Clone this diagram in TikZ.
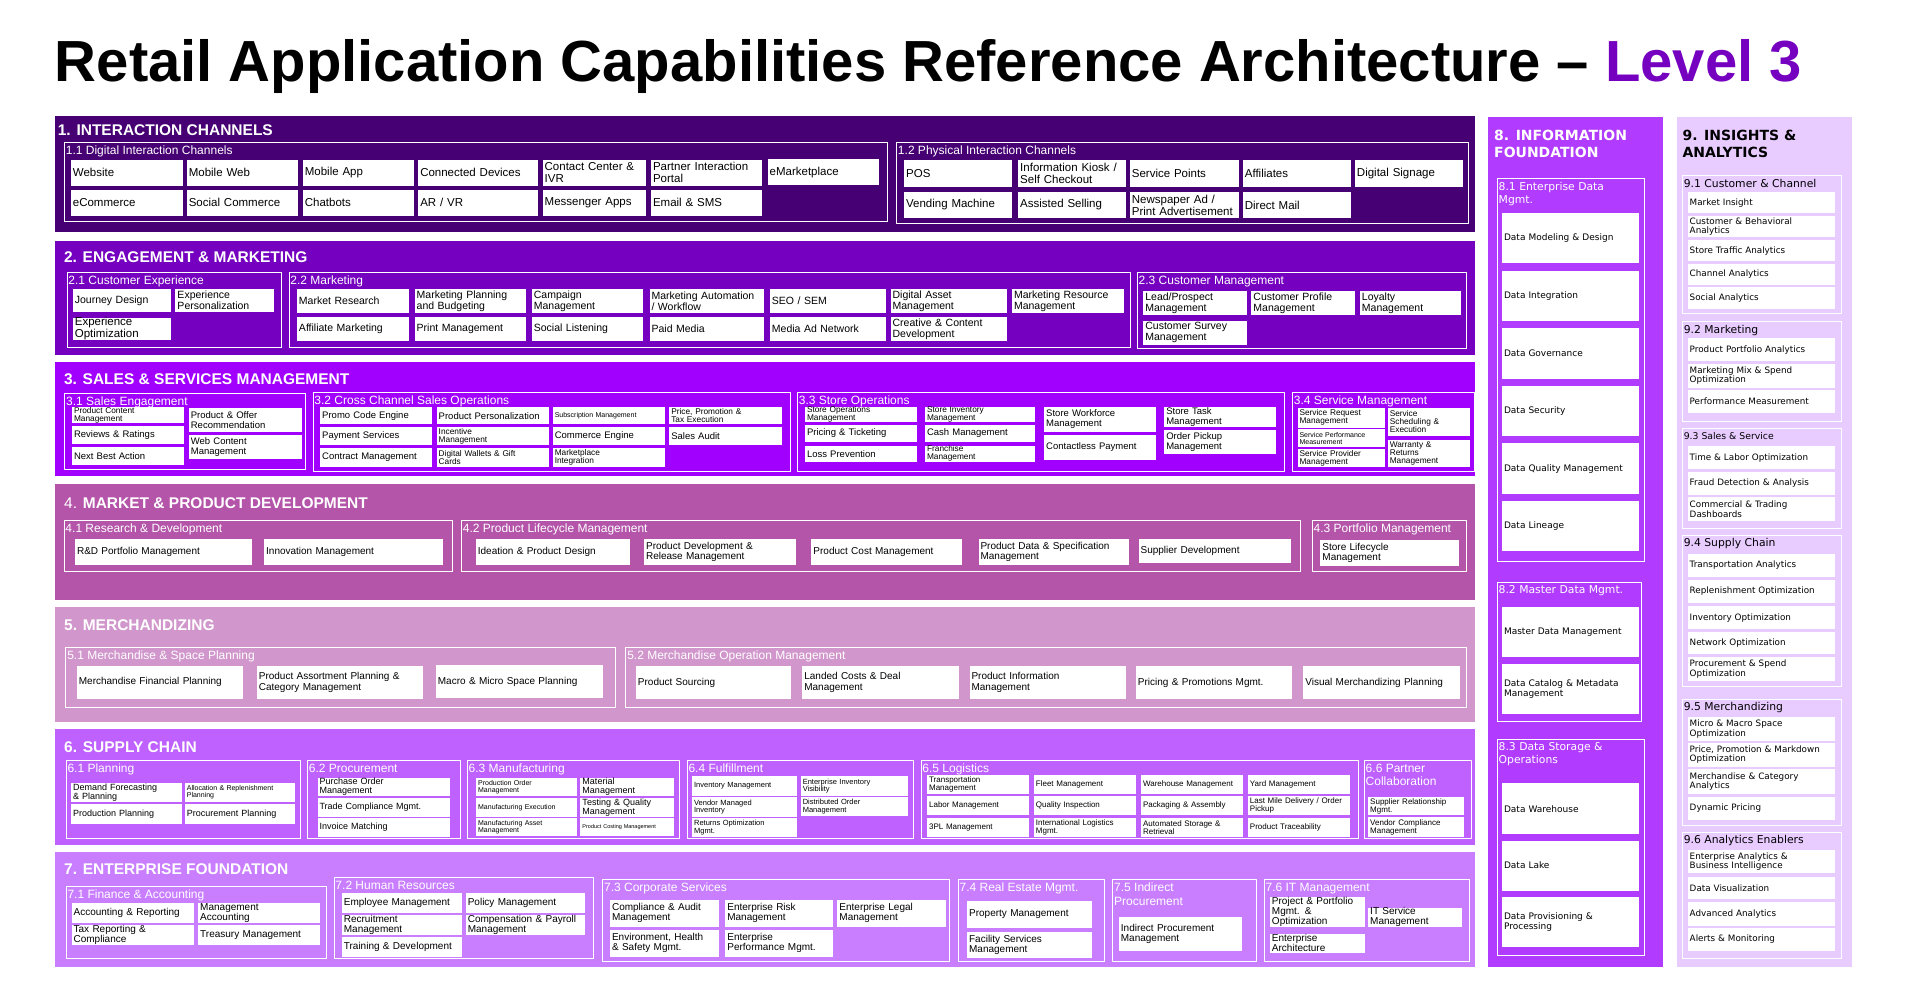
\documentclass[tikz,border=0pt]{standalone}
\usepackage{fontspec}
\setmainfont{Liberation Sans}
\newfontfamily\widefont{DejaVu Sans}
\usepackage{xcolor}
\usepackage{tikz}
\definecolor{lvlpurple}{HTML}{7500C0}
\definecolor{icpurple}{HTML}{460073}
\definecolor{empurple}{HTML}{7500C0}
\definecolor{sspurple}{HTML}{A100FF}
\definecolor{mpmagenta}{HTML}{B455AA}
\definecolor{mdpink}{HTML}{D197CC}
\definecolor{scviolet}{HTML}{BE61FF}
\definecolor{efviolet}{HTML}{C97EFF}
\definecolor{ifpurple}{HTML}{B13CFF}
\definecolor{ialilac}{HTML}{E9CCFF}
\tikzset{
    bandhead/.style={anchor=west,text=white,inner sep=0pt,
      font=\bfseries\fontsize{15.5}{17}\selectfont},
    widehead/.style={anchor=north west,align=left,inner sep=0pt,text=white,
      font=\widefont\bfseries\fontsize{14}{17.5}\selectfont},
    groupframe/.style={draw=white,line width=0.9pt},
    grouplabel/.style={anchor=north west,align=left,text=white,
      inner xsep=1.2pt,inner ysep=3.2pt,font=\fontsize{12}{13.5}\selectfont},
    widelabel/.style={font=\widefont\fontsize{10.8}{13}\selectfont},
    capcell/.style={fill=white,draw=none,inner xsep=2pt,inner ysep=0pt,
      align=left,text=black,font=\fontsize{10.5}{11}\selectfont},
    cap1/.style={font=\fontsize{11.5}{12}\selectfont},
    cap3/.style={font=\fontsize{9.5}{10}\selectfont},
    capthin/.style={font=\fontsize{8.3}{8}\selectfont},
    captiny/.style={font=\fontsize{7}{7.2}\selectfont},
    capmini/.style={font=\fontsize{5.5}{6}\selectfont},
    capfour/.style={font=\fontsize{10}{10.5}\selectfont},
    capsix/.style={font=\fontsize{9}{9}\selectfont},
    capsmall/.style={font=\fontsize{7.5}{7.5}\selectfont},
    caplog/.style={font=\fontsize{8}{8}\selectfont},
    capseven/.style={font=\fontsize{10}{10}\selectfont},
    capwide/.style={font=\widefont\fontsize{9}{10}\selectfont},
    capwidesm/.style={font=\widefont\fontsize{8.8}{8.5}\selectfont}
}
% capability cell: [options]{name}{x1}{y1}{x2}{y2}{text}
\newcommand{\capnode}[7][]{%
  \pgfmathsetmacro{\capw}{(#5-#3)*1.2162}%
  \pgfmathsetmacro{\caph}{(#6-#4)*1.2162}%
  \pgfmathsetmacro{\captw}{\capw-4}%
  \node[capcell,minimum width=\capw pt,minimum height=\caph pt,text width=\captw pt,#1]
    (#2) at ({(#3+#5)/2},{(#4+#6)/2}) {#7};%
}
% white frame with its label: [options]{name}{x1}{y1}{x2}{y2}{label}
\newcommand{\capgroup}[7][]{%
  \draw[groupframe] (#3,#4) rectangle (#5,#6);
  \node[grouplabel,#1] (#2) at (#3,#4) {#7};%
}

\begin{document}
\begin{tikzpicture}[x=1.2162pt,y=-1.2162pt]
  \useasboundingbox (0,0) rectangle (1568,826);
  \fill[white] (0,0) rectangle (1568,826);
  \node[anchor=base west,inner sep=0pt,font=\bfseries\fontsize{58}{60}\selectfont] (title) at (45,67.2)
    {Retail Application Capabilities Reference Architecture -- \textcolor{lvlpurple}{Level 3}};

  % 1. interaction channels
  \fill[icpurple] (45,95.5) rectangle (1213,190.5);
  \node[bandhead] (h1) at (47.4,107) {1. INTERACTION CHANNELS};
  \begin{scope}[capcell/.append style={cap1}]
  \capgroup{g11}{53}{117}{730}{182}{1.1 Digital Interaction Channels}
  \capnode{d1}{58.3}{131.6}{150.5}{152.7}{Website}
  \capnode{d2}{153.6}{131.6}{245}{152.7}{Mobile Web}
  \capnode{d3}{249}{131.6}{340}{152.7}{Mobile App}
  \capnode{d4}{343.9}{131.6}{442.6}{152.7}{Connected Devices}
  \capnode{d5}{446.2}{131.6}{531}{152.7}{Contact Center \&\\IVR}
  \capnode{d6}{535.3}{131.6}{626.8}{152.7}{Partner Interaction\\Portal}
  \capnode{d7}{631.2}{131}{723}{152.1}{eMarketplace}
  \capnode{d8}{58.3}{156.2}{150.5}{177.3}{eCommerce}
  \capnode{d9}{153.6}{156.2}{245}{177.3}{Social Commerce}
  \capnode{d10}{249}{156.2}{340}{177.3}{Chatbots}
  \capnode{d11}{343.9}{156.2}{442.6}{177.3}{AR / VR}
  \capnode{d12}{446.2}{156.2}{531}{177.3}{Messenger Apps}
  \capnode{d13}{535.3}{156.2}{626.8}{177.3}{Email \& SMS}
  \capgroup{g12}{737.2}{117}{1207.2}{183.6}{1.2 Physical Interaction Channels}
  \capnode{p1}{743.4}{131.6}{832.1}{153.5}{POS}
  \capnode{p2}{837.2}{131.6}{925.9}{153.5}{Information Kiosk /\\Self Checkout}
  \capnode{p3}{929}{131.6}{1018.4}{153.5}{Service Points}
  \capnode{p4}{1021.9}{131.6}{1110.6}{153.5}{Affiliates}
  \capnode{p5}{1114.1}{131.6}{1202.8}{153.5}{Digital Signage}
  \capnode{p6}{743.4}{157.9}{832.1}{179.2}{Vending Machine}
  \capnode{p7}{837.2}{157.9}{925.9}{179.2}{Assisted Selling}
  \capnode{p8}{929}{157.9}{1018.4}{179.2}{Newspaper Ad /\\Print Advertisement}
  \capnode{p9}{1021.9}{157.9}{1110.6}{179.2}{Direct Mail}
  \end{scope}

  % 2. engagement & marketing
  \fill[empurple] (45,198) rectangle (1213,291.9);
  \node[bandhead] (h2) at (52.5,211.6) {2. ENGAGEMENT \& MARKETING};
  \capgroup{g21}{55.1}{223.9}{231.3}{285.6}{2.1 Customer Experience}
  \capnode{e1}{59.9}{237.9}{140.7}{256.3}{Journey Design}
  \capnode{e2}{144.3}{237.9}{225.5}{256.3}{Experience\\Personalization}
  \capnode[cap1]{e3}{59.9}{261.2}{140.7}{279.6}{Experience\\Optimization}
  \capgroup{g22}{237.6}{223.9}{929.8}{285.6}{2.2 Marketing}
  \capnode{m1}{244.2}{237.9}{336}{257.1}{Market Research}
  \capnode{m2}{341}{237.9}{432.5}{257.1}{Marketing Planning\\and Budgeting}
  \capnode{m3}{437.3}{237.9}{528.7}{257.1}{Campaign\\Management}
  \capnode{m4}{534.1}{237.9}{628.2}{257.1}{Marketing Automation\\/ Workflow}
  \capnode{m5}{633.1}{237.9}{728.5}{257.1}{SEO / SEM}
  \capnode{m6}{732.3}{237.9}{828}{257.1}{Digital Asset\\Management}
  \capnode{m7}{832.1}{237.9}{924}{257.1}{Marketing Resource\\Management}
  \capnode{m8}{244.2}{260.9}{336}{280.1}{Affiliate Marketing}
  \capnode{m9}{341}{260.9}{432.5}{280.1}{Print Management}
  \capnode{m10}{437.3}{260.9}{528.7}{280.1}{Social Listening}
  \capnode{m11}{534.1}{260.9}{628.2}{280.1}{Paid Media}
  \capnode{m12}{633.1}{260.9}{728.5}{280.1}{Media Ad Network}
  \capnode{m13}{732.3}{260.9}{828}{280.1}{Creative \& Content\\Development}
  \capgroup{g23}{935.1}{223.9}{1205.8}{286.4}{2.3 Customer Management}
  \capnode{c1}{940.1}{239.3}{1025.5}{258.7}{Lead/Prospect\\Management}
  \capnode{c2}{1029}{239.3}{1114.3}{258.7}{Customer Profile\\Management}
  \capnode{c3}{1118.2}{239.3}{1201.2}{258.7}{Loyalty\\Management}
  \capnode{c4}{940.1}{264}{1025.5}{283.4}{Customer Survey\\Management}

  % 3. sales & services management
  \fill[sspurple] (45,297.4) rectangle (1213,391.4);
  \node[bandhead] (h3) at (52.5,311.9) {3. SALES \& SERVICES MANAGEMENT};
  \begin{scope}[capcell/.append style={cap3}]
  \capgroup{g31}{53.3}{323.4}{251.5}{385.9}{3.1 Sales Engagement}
  \capnode[capthin]{s1}{59.2}{335.2}{151.3}{347.8}{Product Content\\Management}
  \capnode{s2}{59.2}{350.3}{151.3}{365.1}{Reviews \& Ratings}
  \capnode{s3}{59.2}{367.5}{151.3}{382.6}{Next Best Action}
  \capnode{s4}{155.3}{335.2}{248.2}{355.2}{Product \& Offer\\Recommendation}
  \capnode{s5}{155.3}{357.7}{248.2}{377.4}{Web Content\\Management}
  \capgroup{g32}{257.4}{322.6}{650}{387.3}{3.2 Cross Channel Sales Operations}
  \capnode{x1}{263.3}{334.9}{355.4}{348.6}{Promo Code Engine}
  \capnode{x2}{263.3}{351.1}{355.4}{365.9}{Payment Services}
  \capnode{x3}{263.3}{368.6}{355.4}{384}{Contract Management}
  \capnode{x4}{359.1}{334.9}{451.2}{348.6}{Product Personalization}
  \capnode[capthin]{x5}{359.1}{351.1}{451.2}{365.9}{Incentive\\Management}
  \capnode[capthin]{x6}{359.1}{368.6}{451.2}{384}{Digital Wallets \& Gift\\Cards}
  \capnode[captiny]{x7}{454.5}{334.9}{546.6}{348.6}{Subscription Management}
  \capnode{x8}{454.5}{351.1}{546.6}{365.9}{Commerce Engine}
  \capnode[capthin]{x9}{454.5}{368.6}{546.6}{384}{Marketplace\\Integration}
  \capnode[capthin]{x10}{550.3}{334.9}{642.7}{348.6}{Price, Promotion \&\\Tax Execution}
  \capnode{x11}{550.3}{351.1}{642.7}{365.9}{Sales Audit}
  \capgroup{g33}{655.7}{322.6}{1055.8}{387.3}{3.3 Store Operations}
  \capnode[capthin]{o1}{661.9}{334.9}{753.7}{346.7}{Store Operations\\Management}
  \capnode{o2}{661.9}{349.7}{753.7}{363.2}{Pricing \& Ticketing}
  \capnode{o3}{661.9}{366.7}{753.7}{379.6}{Loss Prevention}
  \capnode[capthin]{o4}{760.6}{334.9}{851.3}{346.7}{Store Inventory\\Management}
  \capnode{o5}{760.6}{349.7}{851.3}{363.2}{Cash Management}
  \capnode[capthin]{o6}{760.6}{366.7}{851.3}{379.6}{Franchise\\Management}
  \capnode{o7}{858.6}{334.9}{950.8}{354.9}{Store Workforce\\Management}
  \capnode{o8}{858.6}{357.9}{950.8}{378}{Contactless Payment}
  \capnode{o9}{957.3}{334.9}{1049.2}{350.8}{Store Task\\Management}
  \capnode{o10}{957.3}{353.6}{1049.2}{373}{Order Pickup\\Management}
  \capgroup{g34}{1062.7}{322.6}{1212}{387.3}{3.4 Service Management}
  \capnode[capthin]{v1}{1066.9}{335.2}{1138.4}{351.6}{Service Request\\Management}
  \capnode[captiny]{v2}{1066.9}{353}{1138.4}{367.5}{Service Performance\\Measurement}
  \capnode[capthin]{v3}{1066.9}{369.2}{1138.4}{384}{Service Provider\\Management}
  \capnode[capthin]{v4}{1141.1}{335.2}{1208.8}{358.5}{Service\\Scheduling \&\\Execution}
  \capnode[capthin]{v5}{1141.1}{361.8}{1208.8}{384}{Warranty \&\\Returns\\Management}
  \end{scope}

  % 4. market & product development
  \fill[mpmagenta] (45,398) rectangle (1213,493.3);
  \node[bandhead] (h4) at (52.6,413.9) {{\mdseries 4.} MARKET \& PRODUCT DEVELOPMENT};
  \begin{scope}[capcell/.append style={capfour}]
  \capgroup{g41}{52.7}{427.8}{371.9}{470}{4.1 Research \& Development}
  \capnode{r1}{61.7}{443.2}{207.5}{464.3}{R\&D Portfolio Management}
  \capnode{r2}{217.2}{443.2}{364.4}{464.3}{Innovation Management}
  \capgroup{g42}{379.4}{427.8}{1069.3}{470}{4.2 Product Lifecycle Management}
  \capnode{l1}{391.3}{443.2}{517.6}{464.3}{Ideation \& Product Design}
  \capnode{l2}{529.6}{443.2}{654.4}{464.3}{Product Development \&\\Release Management}
  \capnode{l3}{667.2}{443.2}{791.2}{464.3}{Product Cost Management}
  \capnode{l4}{804.6}{443.2}{928.7}{464.3}{Product Data \& Specification\\Management}
  \capnode{l5}{936.2}{443.2}{1061.1}{463.3}{Supplier Development}
  \capgroup{g43}{1079}{427.8}{1206.1}{470}{4.3 Portfolio Management}
  \capnode{pm1}{1085.7}{444}{1200}{465.1}{Store Lifecycle\\Management}
  \end{scope}

  % 5. merchandizing
  \fill[mdpink] (45,499.1) rectangle (1213,593.6);
  \node[bandhead] (h5) at (52.6,513.9) {5. MERCHANDIZING};
  \begin{scope}[capcell/.append style={capfour}]
  \capgroup{g51}{54.2}{532.2}{506.4}{581.6}{5.1 Merchandise \& Space Planning}
  \capnode{n1}{63.2}{547.4}{200}{574.5}{Merchandise Financial Planning}
  \capnode{n2}{211.2}{547.4}{348}{574.5}{Product Assortment Planning \&\\Category Management}
  \capnode{n3}{358.4}{546.8}{496}{573.8}{Macro \& Micro Space Planning}
  \capgroup{g52}{514.6}{532.2}{1206.1}{581.6}{5.2 Merchandise Operation Management}
  \capnode{n4}{522.9}{548}{650.7}{574.5}{Product Sourcing}
  \capnode{n5}{659.7}{548}{788.2}{574.5}{Landed Costs \& Deal\\Management}
  \capnode{n6}{797.2}{548}{925.8}{574.5}{Product Information\\Management}
  \capnode{n7}{934}{548}{1062.6}{574.5}{Pricing \& Promotions Mgmt.}
  \capnode{n8}{1071.6}{548}{1200.1}{574.5}{Visual Merchandizing Planning}
  \end{scope}

  % 6. supply chain
  \fill[scviolet] (45,599.4) rectangle (1213,694.8);
  \node[bandhead] (h6) at (52.6,614.5) {6. SUPPLY CHAIN};
  \begin{scope}[capcell/.append style={capsix}]
  \capgroup{g61}{54.4}{625.2}{246.9}{689.3}{6.1 Planning}
  \capnode{pl1}{58.5}{643.5}{149.7}{659.4}{Demand Forecasting\\\& Planning}
  \capnode[captiny]{pl2}{152}{643.5}{242.8}{659.4}{Allocation \& Replenishment\\Planning}
  \capnode{pl3}{58.5}{661.3}{149.7}{677.3}{Production Planning}
  \capnode{pl4}{152}{661.3}{242.8}{677.3}{Procurement Planning}
  \capgroup{g62}{252.8}{625.2}{378.8}{689.3}{6.2 Procurement}
  \capnode{pr1}{261.1}{639.4}{369.7}{654.5}{Purchase Order\\Management}
  \capnode{pr2}{261.1}{656.2}{369.7}{671.5}{Trade Compliance Mgmt.}
  \capnode{pr3}{261.1}{672.8}{369.7}{688}{Invoice Matching}
  \capgroup{g63}{384.2}{625.2}{559}{689.3}{6.3 Manufacturing}
  \capnode[captiny]{mf1}{391.5}{639.4}{474.1}{654.5}{Production Order\\Management}
  \capnode[captiny]{mf2}{391.5}{656.2}{474.1}{671.5}{Manufacturing Execution}
  \capnode[captiny]{mf3}{391.5}{672.8}{474.1}{687.2}{Manufacturing Asset\\Management}
  \capnode{mf4}{477.3}{639.4}{554.4}{654.5}{Material\\Management}
  \capnode{mf5}{477.3}{656.2}{554.4}{671.5}{Testing \& Quality\\Management}
  \capnode[capmini]{mf6}{477.3}{672.8}{554.4}{687.2}{Product Costing Management}
  \capgroup{g64}{565}{625.2}{751.1}{689.3}{6.4 Fulfillment}
  \capnode[capsmall]{fu1}{569.1}{638}{655.3}{654.5}{Inventory Management}
  \capnode[capsmall]{fu2}{569.1}{655.6}{655.3}{671.5}{Vendor Managed\\Inventory}
  \capnode[capsmall]{fu3}{569.1}{672.6}{655.3}{688}{Returns Optimization\\Mgmt.}
  \capnode[capsmall]{fu4}{658.4}{638}{746.5}{654.5}{Enterprise Inventory\\Visibility}
  \capnode[capsmall]{fu5}{658.4}{655.6}{746.5}{671}{Distributed Order\\Management}
  \capgroup{g65}{757.3}{625.2}{1117}{689.3}{6.5 Logistics}
  \capnode[caplog]{lg1}{762.3}{637.2}{846}{652.9}{Transportation\\Management}
  \capnode[caplog]{lg2}{762.3}{654.8}{846}{670.1}{Labor Management}
  \capnode[caplog]{lg3}{762.3}{672.3}{846}{688.2}{3PL Management}
  \capnode[caplog]{lg4}{850.1}{637.2}{933.8}{652.9}{Fleet Management}
  \capnode[caplog]{lg5}{850.1}{654.8}{933.8}{670.1}{Quality Inspection}
  \capnode[caplog]{lg6}{850.1}{672.3}{933.8}{688.2}{International Logistics\\Mgmt.}
  \capnode[caplog]{lg7}{938.2}{637.2}{1021.9}{652.9}{Warehouse Management}
  \capnode[caplog]{lg8}{938.2}{654.8}{1021.9}{670.1}{Packaging \& Assembly}
  \capnode[caplog]{lg9}{938.2}{672.3}{1021.9}{688.2}{Automated Storage \&\\Retrieval}
  \capnode[caplog]{lg10}{1026.1}{637.2}{1109.7}{652.9}{Yard Management}
  \capnode[caplog]{lg11}{1026.1}{654.8}{1109.7}{670.1}{Last Mile Delivery / Order\\Pickup}
  \capnode[caplog]{lg12}{1026.1}{672.3}{1109.7}{688.2}{Product Traceability}
  \capgroup{g66}{1121.8}{625.2}{1210.1}{689.3}{6.6 Partner\\Collaboration}
  \capnode[caplog]{pc1}{1125}{655.3}{1203.4}{670.1}{Supplier Relationship\\Mgmt.}
  \capnode[caplog]{pc2}{1125}{672}{1203.4}{688}{Vendor Compliance\\Management}
  \end{scope}

  % 7. enterprise foundation
  \fill[efviolet] (45,700.3) rectangle (1213,794.8);
  \node[bandhead] (h7) at (52.6,714.8) {7. ENTERPRISE FOUNDATION};
  \begin{scope}[capcell/.append style={capseven}]
  \capgroup{g71}{54.4}{728.5}{268.8}{788}{7.1 Finance \& Accounting}
  \capnode{fa1}{58.9}{742.2}{159.8}{758.9}{Accounting \& Reporting}
  \capnode{fa2}{163}{742.2}{263.4}{758.9}{Management\\Accounting}
  \capnode{fa3}{58.9}{760.6}{159.8}{777}{Tax Reporting \&\\Compliance}
  \capnode{fa4}{163}{760.6}{263.4}{777}{Treasury Management}
  \capgroup{g72}{274.7}{721.4}{487.8}{788.3}{7.2 Human Resources}
  \capnode{hr1}{281.1}{734.3}{379.7}{750.4}{Employee Management}
  \capnode{hr2}{383}{734.3}{481}{750.4}{Policy Management}
  \capnode{hr3}{281.1}{752.1}{379.7}{768.8}{Recruitment\\Management}
  \capnode{hr4}{383}{752.1}{481}{768.8}{Compensation \& Payroll\\Management}
  \capnode{hr5}{281.1}{770.4}{379.7}{786.6}{Training \& Development}
  \capgroup{g73}{495.6}{722.7}{780.6}{790.2}{7.3 Corporate Services}
  \capnode{cs1}{501.6}{740}{591.4}{761.9}{Compliance \& Audit\\Management}
  \capnode{cs2}{596.4}{740}{685}{761.9}{Enterprise Risk\\Management}
  \capnode{cs3}{688.6}{740}{777.6}{761.9}{Enterprise Legal\\Management}
  \capnode{cs4}{501.6}{764.7}{591.4}{786.6}{Environment, Health\\\& Safety Mgmt.}
  \capnode{cs5}{596.4}{764.7}{685}{786.6}{Enterprise\\Performance Mgmt.}
  \capgroup{g74}{787.9}{723.3}{908}{790.2}{7.4 Real Estate Mgmt.}
  \capnode{re1}{795.2}{741.1}{897.7}{762.8}{Property Management}
  \capnode{re2}{795.2}{766.3}{897.7}{787.4}{Facility Services\\Management}
  \capgroup{g75}{915}{723.3}{1033}{790.2}{7.5 Indirect\\Procurement}
  \capnode{ip1}{920}{754}{1021.3}{781.7}{Indirect Procurement\\Management}
  \capgroup{g76}{1039.5}{723.3}{1208.4}{790.2}{7.6 IT Management}
  \capnode{it1}{1044.2}{737.5}{1122}{761.9}{Project \& Portfolio\\Mgmt. \&\\Optimization}
  \capnode{it2}{1125}{746.6}{1202.2}{761.9}{IT Service\\Management}
  \capnode{it3}{1044.2}{767.7}{1122}{783.3}{Enterprise\\Architecture}
  \end{scope}

  % 8. information foundation
  \fill[ifpurple] (1223.5,96) rectangle (1367.4,795.5);
  \node[widehead] (h8) at (1228.4,106.5) {8. INFORMATION\\FOUNDATION};
  \begin{scope}[capcell/.append style={capwide}]
  \capgroup[widelabel]{g81}{1231.1}{146.8}{1352.3}{461.9}{8.1 Enterprise Data\\Mgmt.}
  \capnode{ef1}{1235}{175.4}{1347.6}{216.4}{Data Modeling \& Design}
  \capnode{ef2}{1235}{222.8}{1347.6}{263.9}{Data Integration}
  \capnode{ef3}{1235}{269.9}{1347.6}{311.4}{Data Governance}
  \capnode{ef4}{1235}{317.5}{1347.6}{358.5}{Data Security}
  \capnode{ef5}{1235}{364.5}{1347.6}{406}{Data Quality Management}
  \capnode{ef6}{1235}{411.6}{1347.6}{453.1}{Data Lineage}
  \capgroup[widelabel]{g82}{1231.1}{479}{1349.8}{593.4}{8.2 Master Data Mgmt.}
  \capnode{md1}{1235}{499.3}{1347.6}{540.3}{Master Data Management}
  \capnode{md2}{1235}{546.3}{1347.6}{586.9}{Data Catalog \& Metadata\\Management}
  \capgroup[widelabel]{g83}{1231.1}{608.1}{1352.3}{785.3}{8.3 Data Storage \&\\Operations}
  \capnode{ds1}{1235}{644.2}{1347.6}{685.7}{Data Warehouse}
  \capnode{ds2}{1235}{691.2}{1347.6}{732.3}{Data Lake}
  \capnode{ds3}{1235}{737.8}{1347.6}{778.9}{Data Provisioning \&\\Processing}
  \end{scope}

  % 9. insights & analytics
  \fill[ialilac] (1378.9,96) rectangle (1522.5,795.5);
  \node[widehead,text=black] (h9) at (1383.3,106.5) {9. INSIGHTS \&\\ANALYTICS};
  \begin{scope}[capcell/.append style={capwidesm},grouplabel/.append style={widelabel,text=black}]
  \capgroup{g91}{1383.3}{144.4}{1514.3}{257.4}{9.1 Customer \& Channel}
  \capnode{ia1}{1387.7}{157.8}{1509.1}{175.4}{Market Insight}
  \capnode{ia2}{1387.7}{177.7}{1509.1}{195.2}{Customer \& Behavioral\\Analytics}
  \capnode{ia3}{1387.7}{197.5}{1509.1}{215}{Store Traffic Analytics}
  \capnode{ia4}{1387.7}{216.9}{1509.1}{234.4}{Channel Analytics}
  \capnode{ia5}{1387.7}{236.2}{1509.1}{253.8}{Social Analytics}
  \capgroup{g92}{1383.3}{264.4}{1514.3}{346.6}{9.2 Marketing}
  \capnode{ia6}{1387.7}{277.7}{1509.1}{297.2}{Product Portfolio Analytics}
  \capnode{ia7}{1387.7}{299}{1509.1}{318.8}{Marketing Mix \& Spend\\Optimization}
  \capnode{ia8}{1387.7}{320.7}{1509.1}{339.6}{Performance Measurement}
  \capgroup[font=\widefont\fontsize{9.3}{11}\selectfont]{g93}{1383.3}{352.5}{1514.3}{434.2}{9.3 Sales \& Service}
  \capnode{ia9}{1387.7}{366.8}{1509.1}{385.8}{Time \& Labor Optimization}
  \capnode{ia10}{1387.7}{388.1}{1509.1}{407}{Fraud Detection \& Analysis}
  \capnode{ia11}{1387.7}{408.8}{1509.1}{428.2}{Commercial \& Trading\\Dashboards}
  \capgroup{g94}{1383.3}{440.2}{1514.3}{564.8}{9.4 Supply Chain}
  \capnode{ia12}{1387.7}{455.4}{1509.1}{474.3}{Transportation Analytics}
  \capnode{ia13}{1387.7}{477.1}{1509.1}{495.6}{Replenishment Optimization}
  \capnode{ia14}{1387.7}{498.4}{1509.1}{517.3}{Inventory Optimization}
  \capnode{ia15}{1387.7}{519.6}{1509.1}{538}{Network Optimization}
  \capnode{ia16}{1387.7}{540.3}{1509.1}{559.7}{Procurement \& Spend\\Optimization}
  \capgroup{g95}{1383.3}{574.9}{1514.3}{678.8}{9.5 Merchandizing}
  \capnode{ia17}{1387.7}{589.7}{1509.1}{609.1}{Micro \& Macro Space\\Optimization}
  \capnode{ia18}{1387.7}{610.9}{1509.1}{630.3}{Price, Promotion \& Markdown\\Optimization}
  \capnode{ia19}{1387.7}{632.6}{1509.1}{652.5}{Merchandise \& Category\\Analytics}
  \capnode{ia20}{1387.7}{655.2}{1509.1}{674.2}{Dynamic Pricing}
  \capgroup{g96}{1383.3}{684.3}{1514.3}{788.1}{9.6 Analytics Enablers}
  \capnode{ia21}{1387.7}{698.6}{1509.1}{718}{Enterprise Analytics \&\\Business Intelligence}
  \capnode{ia22}{1387.7}{720.8}{1509.1}{739.2}{Data Visualization}
  \capnode{ia23}{1387.7}{742}{1509.1}{761.4}{Advanced Analytics}
  \capnode{ia24}{1387.7}{763.2}{1509.1}{781.6}{Alerts \& Monitoring}
  \end{scope}
\end{tikzpicture}
\end{document}
